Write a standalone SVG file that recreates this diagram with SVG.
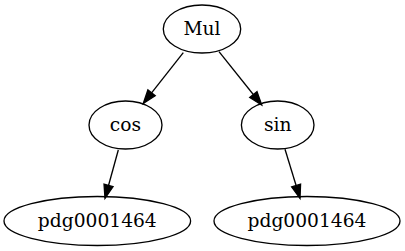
<svg xmlns="http://www.w3.org/2000/svg" width="405" height="251" viewBox="0 0 405 251">
<style>
.n ellipse{fill:none;stroke:#000;stroke-width:1.33}
.n text{font-family:"DejaVu Serif","Liberation Serif",serif;font-size:18.67px;text-anchor:middle;fill:#000}
.e line{stroke:#000;stroke-width:1.33;marker-end:url(#ah)}
</style>
<defs>
<marker id="ah" markerUnits="userSpaceOnUse" markerWidth="14" markerHeight="10" refX="13.3" refY="4.67" orient="auto" overflow="visible">
<path d="M0,0 L13.3,4.67 L0,9.33 z" fill="#000" stroke="#000" stroke-width="1.33"/>
</marker>
</defs>
<rect width="405" height="251" fill="#fff"/>
<g id="edges" class="e">
<line x1="183.3" y1="52.7" x2="143.3" y2="103.3"/>
<line x1="219" y1="51.7" x2="261.7" y2="105"/>
<line x1="118.3" y1="150" x2="105" y2="198.3"/>
<line x1="285" y1="149.3" x2="300" y2="198.3"/>
</g>
<g id="mul" class="n"><ellipse cx="202" cy="29" rx="38.7" ry="24"/><text x="202" y="35">Mul</text></g>
<g id="cos" class="n"><ellipse cx="125.5" cy="125" rx="36.5" ry="24"/><text x="125.5" y="131">cos</text></g>
<g id="sin" class="n"><ellipse cx="277.7" cy="125" rx="36.3" ry="24"/><text x="277.7" y="131">sin</text></g>
<g id="pdg1" class="n"><ellipse cx="97.3" cy="221" rx="93.3" ry="24.5"/><text x="97.3" y="227">pdg0001464</text></g>
<g id="pdg2" class="n"><ellipse cx="307" cy="221" rx="93" ry="24.5"/><text x="307" y="227">pdg0001464</text></g>
</svg>
